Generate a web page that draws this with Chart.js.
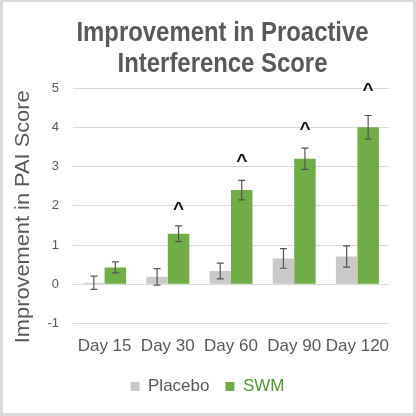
<!DOCTYPE html>
<html>
<head>
<meta charset="utf-8">
<script src="https://cdn.jsdelivr.net/npm/chart.js@4.4.1/dist/chart.umd.min.js"></script>
<style>
  html, body { margin: 0; padding: 0; background: #ffffff; }
  #frame { width: 416px; height: 416px; box-sizing: border-box; border: 3px solid #dadada; border-top-width: 2px; background: #ffffff; }
  #wrap { position: relative; width: 410px; height: 411px; }
</style>
</head>
<body>
<div id="frame"><div id="wrap"><canvas id="c"></canvas></div></div>
<script>
const categories = ['Day 15', 'Day 30', 'Day 60', 'Day 90', 'Day 120'];
const placeboMean = [0.04, 0.19, 0.34, 0.66, 0.71];
const placeboErr  = [0.17, 0.21, 0.20, 0.25, 0.27];
const swmMean     = [0.43, 1.29, 2.40, 3.20, 4.00];
const swmErr      = [0.14, 0.20, 0.25, 0.27, 0.30];
const caretLevel  = [null, 2.02, 3.25, 4.06, 5.06];
const yTicks = [-1, 0, 1, 2, 3, 4, 5];
const titleLines = ['Improvement in Proactive', 'Interference Score'];
const yTitle = 'Improvement in PAI Score';

const gray = '#595959';
const FONT = '"Liberation Sans", Arial, sans-serif';
const errs = [placeboErr, swmErr];

const errorBarPlugin = {
  id: 'errorBars',
  afterDatasetsDraw(chart) {
    const ctx = chart.ctx;
    const y = chart.scales.y;
    ctx.save();
    ctx.strokeStyle = '#555555';
    ctx.lineWidth = 1.2;
    chart.data.datasets.forEach((ds, di) => {
      const meta = chart.getDatasetMeta(di);
      meta.data.forEach((bar, i) => {
        const v = ds.data[i];
        const e = errs[di][i];
        const yt = y.getPixelForValue(v + e);
        const yb = y.getPixelForValue(v - e);
        const x = bar.x;
        const cw = 3.5;
        ctx.beginPath();
        ctx.moveTo(x, yt); ctx.lineTo(x, yb);
        ctx.moveTo(x - cw, yt); ctx.lineTo(x + cw, yt);
        ctx.moveTo(x - cw, yb); ctx.lineTo(x + cw, yb);
        ctx.stroke();
      });
    });
    // significance carets above SWM bars
    const meta = chart.getDatasetMeta(1);
    ctx.fillStyle = '#111111';
    ctx.font = 'bold 19px ' + FONT;
    ctx.textAlign = 'center';
    ctx.textBaseline = 'alphabetic';
    meta.data.forEach((bar, i) => {
      if (caretLevel[i] === null) return;
      const cy = y.getPixelForValue(caretLevel[i]);
      ctx.fillText('^', bar.x, cy + 0.52 * 19);
    });
    ctx.restore();
  }
};

// Chart title (condensed bold) and rotated y-axis title
const titlesPlugin = {
  id: 'titles',
  afterDraw(chart) {
    const ctx = chart.ctx;
    ctx.save();
    ctx.fillStyle = gray;
    ctx.textAlign = 'center';
    ctx.textBaseline = 'alphabetic';
    ctx.font = 'bold 27px ' + FONT;
    const cx = chart.chartArea.left + (chart.chartArea.right - chart.chartArea.left) * 0.47;
    titleLines.forEach((line, i) => {
      ctx.save();
      ctx.translate(cx + 1, 39 + i * 31);
      ctx.scale(0.885, 1);
      ctx.fillText(line, 0, 0);
      ctx.restore();
    });
    ctx.font = '20px ' + FONT;
    ctx.textBaseline = 'middle';
    ctx.save();
    ctx.translate(20, (chart.chartArea.top + chart.chartArea.bottom) / 2 + 11);
    ctx.rotate(-Math.PI / 2);
    ctx.scale(1.09, 1);
    ctx.fillText(yTitle, 0, 0);
    ctx.restore();
    ctx.restore();
  }
};

new Chart(document.getElementById('c'), {
  type: 'bar',
  data: {
    labels: categories,
    datasets: [
      { label: 'Placebo', data: placeboMean, backgroundColor: '#c9c9c9', categoryPercentage: 0.68, barPercentage: 1.0 },
      { label: 'SWM', data: swmMean, backgroundColor: '#70ad47', categoryPercentage: 0.68, barPercentage: 1.0 }
    ]
  },
  options: {
    responsive: true,
    maintainAspectRatio: false,
    animation: false,
    layout: { padding: { left: 23, right: 24, top: 86, bottom: 8 } },
    plugins: {
      title: { display: false },
      legend: {
        position: 'bottom',
        labels: {
          boxWidth: 9,
          boxHeight: 9,
          padding: 16,
          font: { family: FONT, size: 17 },
          generateLabels(chart) {
            const items = Chart.defaults.plugins.legend.labels.generateLabels(chart);
            items.forEach((it, i) => {
              it.fontColor = i === 1 ? '#4f9a2d' : gray;
              it.lineWidth = 0;
            });
            return items;
          }
        }
      },
      tooltip: { enabled: false }
    },
    scales: {
      x: {
        grid: { display: false },
        border: { display: false },
        ticks: { color: gray, font: { family: FONT, size: 17 }, padding: 5, maxRotation: 0, autoSkip: false }
      },
      y: {
        min: -1,
        max: 5,
        afterBuildTicks(scale) { scale.ticks = yTicks.map(v => ({ value: v })); },
        afterFit(scale) { scale.width = 47; },
        grid: { color: '#d9d9d9', drawTicks: false, lineWidth: 1 },
        border: { display: false },
        ticks: { color: gray, font: { family: FONT, size: 13 }, padding: 14 },
        title: { display: false }
      }
    }
  },
  plugins: [errorBarPlugin, titlesPlugin]
});
</script>
</body>
</html>
